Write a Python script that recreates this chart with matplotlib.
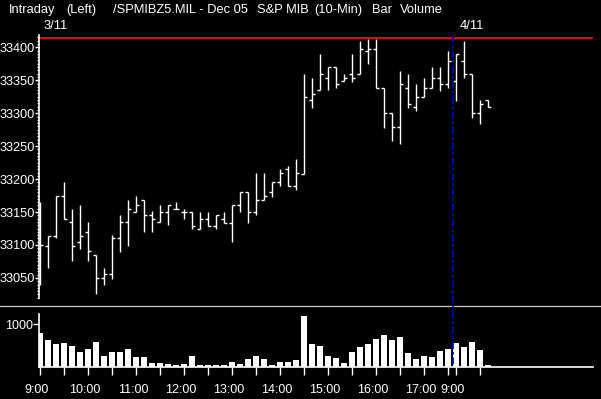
import matplotlib
matplotlib.use("Agg")
import matplotlib.pyplot as plt
import matplotlib.transforms as mtransforms
import numpy as np
from matplotlib.lines import Line2D
from matplotlib.ticker import MultipleLocator, FixedLocator

plt.rcParams.update({
    "font.family": ["Liberation Sans", "DejaVu Sans"],
    "font.size": 9,
})

# --- 10-min OHLC bars: 3/11 09:00..17:30, then 4/11 09:00..09:40 ---
opens = [33150, 33099, 33114, 33174, 33135, 33105, 33120, 33085, 33050, 33056,
         33110, 33135, 33150, 33169, 33145, 33135, 33150, 33154, 33150, 33150,
         33125, 33139, 33129, 33139, 33134, 33161, 33180, 33150, 33169, 33180,
         33195, 33215, 33189, 33208, 33320, 33335, 33354, 33370, 33349, 33360,
         33360, 33394, 33398, 33339, 33300, 33279, 33339, 33309, 33324, 33339,
         33354, 33344, 33349, 33379, 33360, 33300, 33320]
highs = [33166, 33114, 33174, 33195, 33155, 33161, 33135, 33085, 33065, 33115,
         33145, 33169, 33174, 33169, 33151, 33161, 33161, 33165, 33155, 33150,
         33150, 33150, 33145, 33150, 33161, 33180, 33180, 33209, 33209, 33195,
         33215, 33220, 33230, 33360, 33354, 33390, 33370, 33370, 33360, 33390,
         33410, 33413, 33413, 33339, 33300, 33364, 33360, 33344, 33354, 33370,
         33370, 33394, 33390, 33410, 33360, 33320, 33320]
lows = [33039, 33065, 33110, 33139, 33075, 33094, 33075, 33025, 33040, 33049,
        33090, 33099, 33150, 33120, 33120, 33135, 33130, 33154, 33139, 33125,
        33125, 33129, 33125, 33134, 33104, 33150, 33134, 33145, 33169, 33173,
        33189, 33189, 33184, 33208, 33308, 33335, 33335, 33339, 33349, 33348,
        33360, 33374, 33339, 33278, 33258, 33254, 33308, 33304, 33324, 33339,
        33334, 33339, 33319, 33354, 33293, 33284, 33309]
closes = [33100, 33114, 33174, 33139, 33099, 33114, 33091, 33050, 33056, 33110,
          33135, 33155, 33161, 33145, 33139, 33150, 33161, 33154, 33150, 33129,
          33139, 33129, 33145, 33134, 33161, 33180, 33150, 33169, 33174, 33195,
          33209, 33189, 33209, 33324, 33329, 33360, 33370, 33344, 33354, 33354,
          33398, 33398, 33339, 33300, 33279, 33344, 33314, 33324, 33339, 33354,
          33344, 33379, 33390, 33360, 33300, 33314, 33309]
volumes = [806, 636, 550, 574, 504, 364, 426, 597, 271, 364,
           364, 426, 248, 248, 108, 108, 78, 54, 85, 271,
           54, 54, 54, 54, 132, 85, 194, 271, 194, 54,
           132, 132, 170, 1201, 550, 504, 271, 225, 108, 364,
           480, 550, 666, 760, 643, 713, 341, 201, 271, 248,
           387, 434, 574, 480, 597, 411, 62]

# time axis (bar index of each tick, labels on the hours)
tick_idx = [0, 3, 6, 9, 12, 15, 18, 21, 24, 27, 30, 33, 36, 39, 42, 45, 48, 51, 52, 55]
label_idx = [0, 6, 12, 18, 24, 30, 36, 42, 48, 52]
label_text = ['9:00', '10:00', '11:00', '12:00', '13:00', '14:00', '15:00', '16:00', '17:00', '9:00']

high_line = 33414       # red reference line
session_break = 51.58   # blue dashed day separator (between bars)

W, H = 601, 399


def fx(px):
    return px / W


def fy(py):
    return 1 - py / H


fig = plt.figure(figsize=(W / 100, H / 100), dpi=100, facecolor='black')
ax_p = fig.add_axes([fx(39.3), fy(297.7), (593 - 39.3) / W, (297.7 - 35) / H])
ax_v = fig.add_axes([fx(39.3), fy(367.3), (593 - 39.3) / W, (367.3 - 314) / H])

x = np.arange(len(opens))
xlim = ((39.3 - 40) / 8, (593 - 40) / 8)

# price panel
ax_p.set_facecolor('black')
ax_p.vlines(x, lows, highs, colors='white', lw=1.0)
ax_p.hlines(opens, x - 0.34, x, colors='white', lw=1.0)
ax_p.hlines(closes, x, x + 0.34, colors='white', lw=1.0)
ax_p.axhline(high_line, color='#ff0000', lw=1.3)
ax_p.set_xlim(*xlim)
ax_p.set_ylim(33020, 33418.7)
ax_p.set_xticks([])
ax_p.yaxis.set_major_locator(MultipleLocator(50))
ax_p.yaxis.set_minor_locator(MultipleLocator(5))
ax_p.tick_params(axis='y', which='major', length=2.9, width=1, color='white',
                 labelcolor='white', pad=0.4, labelsize=9.2)
ax_p.tick_params(axis='y', which='minor', length=1.6, width=0.9, color='white')
for side in ['top', 'right', 'bottom']:
    ax_p.spines[side].set_visible(False)
ax_p.spines['left'].set_color('white')
ax_p.spines['left'].set_linewidth(1.2)

# volume panel
ax_v.set_facecolor('black')
ax_v.bar(x, volumes, width=0.84, color='white')
ax_v.set_xlim(*xlim)
ax_v.set_ylim(0, 1240)
ax_v.set_yticks([1000])
ax_v.tick_params(axis='y', length=4.3, width=1, color='white', labelcolor='white',
                 pad=0.3, labelsize=9)
ax_v.xaxis.set_major_locator(FixedLocator(tick_idx))
ax_v.set_xticks(label_idx, label_text, minor=False)
ax_v.set_xticks([i for i in tick_idx if i not in label_idx], minor=True)
ax_v.tick_params(axis='x', which='both', length=5.8, width=1, color='white',
                 labelcolor='white', pad=6, labelsize=9)
for lbl in ax_v.get_xticklabels():
    lbl.set_transform(lbl.get_transform()
                      + mtransforms.ScaledTranslation(-0.03, 0, fig.dpi_scale_trans))
for side in ['top', 'right']:
    ax_v.spines[side].set_visible(False)
for side in ['left', 'bottom']:
    ax_v.spines[side].set_color('white')
    ax_v.spines[side].set_linewidth(1.2)

# separator between panels and the day break line
fig.add_artist(Line2D([0, 1], [fy(306), fy(306)], color='#c8c8c8', lw=0.9,
                      transform=fig.transFigure))
trans = mtransforms.blended_transform_factory(ax_p.transData, fig.transFigure)
fig.add_artist(Line2D([session_break, session_break], [fy(35), fy(367.3)],
                      color='#0000c8', lw=1.3, linestyle=(0, (4, 1.5, 1.5, 1.5)),
                      transform=trans))

# header texts
header = [('Intraday', 9.3), ('(Left)', 66.7), ('/SPMIBZ5.MIL - Dec 05', 113.3),
          ('S&P MIB', 256.7), ('(10-Min)', 314), ('Bar', 371.7), ('Volume', 400)]
for txt, px in header:
    fig.text(fx(px), fy(13.3), txt, color='white', fontsize=9.3, va='baseline', ha='left')
fig.text(fx(43.3), fy(29.3), '3/11', color='white', fontsize=9.3, va='baseline')
fig.text(fx(459.3), fy(29.0), '4/11', color='white', fontsize=9.3, va='baseline')

fig.savefig('out.png', dpi=100, facecolor='black')
